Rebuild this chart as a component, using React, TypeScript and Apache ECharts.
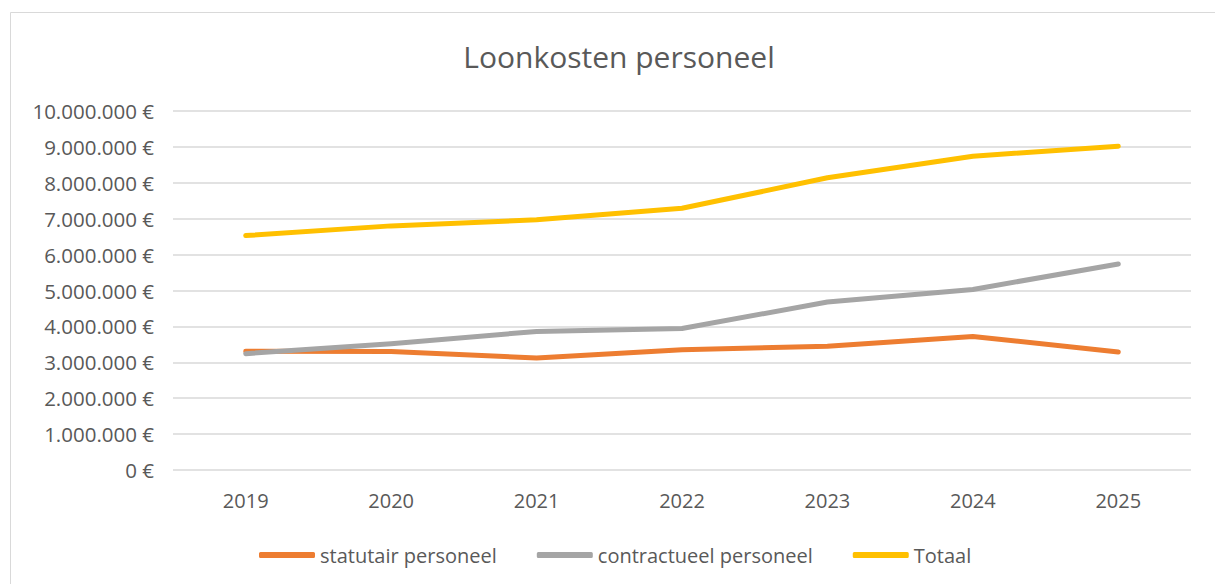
import React, { useEffect, useRef } from "react";
import * as echarts from "echarts";

const categories = ["2019", "2020", "2021", "2022", "2023", "2024", "2025"];
const statutair = [3310000, 3300000, 3120000, 3350000, 3450000, 3720000, 3290000];
const contractueel = [3240000, 3520000, 3860000, 3940000, 4680000, 5030000, 5740000];
const totaal = [6530000, 6800000, 6970000, 7290000, 8140000, 8740000, 9020000];
const seriesNames = ["statutair personeel", "contractueel personeel", "Totaal"];
const seriesColors = ["#ED7D31", "#A5A5A5", "#FFC000"];

const FONT = "'Open Sans', sans-serif";
const TEXT = "#595959";

function fmt(v: number): string {
  return String(Math.round(v)).replace(/\B(?=(\d{3})+(?!\d))/g, ".") + " €";
}

export default function App() {
  const ref = useRef<HTMLDivElement>(null);
  useEffect(() => {
    if (!ref.current) return;
    const chart = echarts.init(ref.current, null, { renderer: "svg" });
    const values = [statutair, contractueel, totaal];
    chart.setOption({
      animation: false,
      backgroundColor: "#ffffff",
      title: {
        text: "Loonkosten personeel",
        left: 614,
        textAlign: "center",
        top: 36,
        textStyle: { fontFamily: FONT, fontSize: 30, fontWeight: "normal", color: TEXT },
      },
      graphic: [
        {
          type: "rect",
          shape: { x: 10.5, y: 12.5, width: 1230, height: 600 },
          style: { fill: "none", stroke: "#D9D9D9", lineWidth: 1 },
          silent: true,
          z: -1,
        },
      ],
      legend: {
        left: 254,
        top: 540,
        itemWidth: 56,
        itemHeight: 6,
        itemGap: 40,
        icon: "roundRect",
        data: seriesNames,
        textStyle: { fontFamily: FONT, fontSize: 20, color: TEXT, lineHeight: 20 },
      },
      grid: { left: 173, right: 24, top: 111, bottom: 114, containLabel: false },
      xAxis: {
        type: "category",
        data: categories,
        boundaryGap: true,
        axisLine: { show: false },
        axisTick: { show: false },
        axisLabel: { fontFamily: FONT, fontSize: 20, color: TEXT, margin: 20, lineHeight: 20 },
      },
      yAxis: {
        type: "value",
        min: 0,
        max: 10000000,
        interval: 1000000,
        axisLine: { show: false },
        axisTick: { show: false },
        splitLine: { lineStyle: { color: "#D9D9D9", width: 1.5 } },
        axisLabel: {
          fontFamily: FONT,
          fontSize: 20.5,
          color: TEXT,
          margin: 19,
          formatter: (v: number) => fmt(v),
        },
      },
      series: seriesNames.map((name, i) => ({
        name,
        type: "line",
        data: values[i],
        symbol: "none",
        color: seriesColors[i],
        lineStyle: { width: 5, color: seriesColors[i], cap: "round", join: "round" },
        itemStyle: { color: seriesColors[i] },
      })),
    });
    return () => chart.dispose();
  }, []);
  return (
    <div
      ref={ref}
      style={{ position: "absolute", left: 0, top: 0, width: 1215, height: 584 }}
    />
  );
}
